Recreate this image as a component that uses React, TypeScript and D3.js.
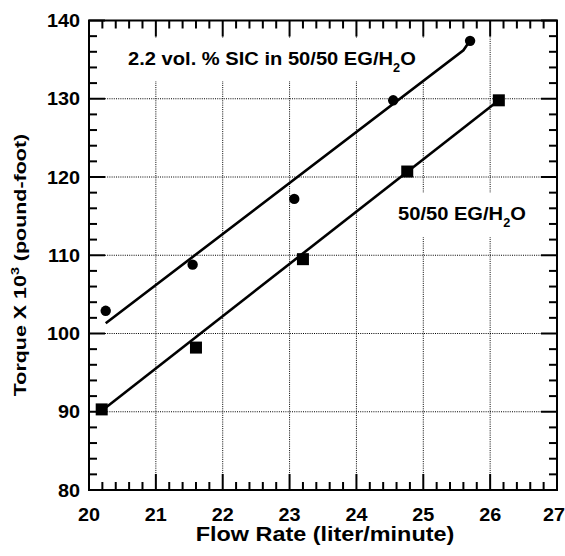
import * as d3 from "d3";

// data
const sicFlow = [20.25, 21.55, 23.07, 24.55, 25.7];
const sicTorque = [102.9, 108.8, 117.2, 129.8, 137.4];
const egFlow = [20.19, 21.6, 23.2, 24.76, 26.13];
const egTorque = [90.3, 98.2, 109.5, 120.7, 129.8];

// fitted lines
const sicFitFlow = [20.25, 25.6, 25.68];
const sicFitTorque = [101.3, 136.2, 137.2];
const egFitFlow = [20.2, 26.13];
const egFitTorque = [90.2, 129.8];

const xTicks = [20, 21, 22, 23, 24, 25, 26, 27];
const yTicks = [80, 90, 100, 110, 120, 130, 140];

const W = 565;
const H = 556;
const left = 89, right = 557, top = 20.5, bottom = 490;
const FONT = "'Liberation Sans', Arial, Helvetica, sans-serif";

const x = d3.scaleLinear().domain([20, 27]).range([left, right]);
const y = d3.scaleLinear().domain([80, 140]).range([bottom, top]);

const xMinor = d3.range(20, 27.001, 0.2).filter((v) => Math.abs(v - Math.round(v)) > 0.01);
const yMinor = d3.range(80, 140.001, 2).filter((v) => v % 10 !== 0);

const MAJ = 16;
const MIN = 8;

const line = d3.line<[number, number]>().x((d) => x(d[0])).y((d) => y(d[1]));
const zip = (a: number[], b: number[]) => a.map((v, i) => [v, b[i]] as [number, number]);

// text with horizontal stretch
const Txt = (p: { x: number; y: number; sx: number; size: number; anchor?: string; rot?: boolean; children: any }) => (
  <g transform={`translate(${p.x},${p.y})${p.rot ? " rotate(-90)" : ""} scale(${p.sx},1)`}>
    <text x={0} y={0} fontFamily={FONT} fontWeight="bold" fontSize={p.size} textAnchor={p.anchor || "start"} fill="#000">
      {p.children}
    </text>
  </g>
);

export default function App() {
  return (
    <svg width={W} height={H} style={{ position: "absolute", left: 0, top: 0, background: "#fff" }}>
      <rect x={0} y={0} width={W} height={H} fill="#fff" />

      {/* grid */}
      <g stroke="#000" strokeWidth={1} strokeDasharray="1,1.2">
        {xTicks.slice(1, -1).map((t) => (
          <line key={"gx" + t} x1={x(t)} x2={x(t)} y1={top + MAJ} y2={bottom - MAJ} />
        ))}
        {yTicks.slice(1, -1).map((t) => (
          <line key={"gy" + t} x1={left + MAJ} x2={right - MAJ} y1={y(t)} y2={y(t)} />
        ))}
      </g>

      {/* label backgrounds */}
      <rect x={120} y={38} width={310} height={43} fill="#fff" />
      <rect x={390} y={193} width={145} height={44} fill="#fff" />

      <Txt x={128} y={65} sx={1.06} size={19}>
        2.2 vol. % SIC in 50/50 EG/H
        <tspan fontSize={12} dy={7}>2</tspan>
        <tspan dy={-7}>O</tspan>
      </Txt>
      <Txt x={398} y={220} sx={1.06} size={19}>
        50/50 EG/H
        <tspan fontSize={12} dy={7}>2</tspan>
        <tspan dy={-7}>O</tspan>
      </Txt>

      {/* fits */}
      <path d={line(zip(sicFitFlow, sicFitTorque)) || ""} fill="none" stroke="#000" strokeWidth={2.6} />
      <path d={line(zip(egFitFlow, egFitTorque)) || ""} fill="none" stroke="#000" strokeWidth={2.6} />

      {/* markers */}
      {sicFlow.map((f, i) => (
        <circle key={"c" + i} cx={x(f)} cy={y(sicTorque[i])} r={5.2} fill="#000" />
      ))}
      {egFlow.map((f, i) => (
        <rect key={"s" + i} x={x(f) - 6} y={y(egTorque[i]) - 6} width={12} height={12} fill="#000" />
      ))}

      {/* frame and ticks */}
      <g stroke="#000" strokeWidth={2} fill="none">
        <rect x={left} y={top} width={right - left} height={bottom - top} />
        {xTicks.map((t) => (
          <g key={"xt" + t}>
            <line x1={x(t)} x2={x(t)} y1={bottom} y2={bottom - MAJ} />
            <line x1={x(t)} x2={x(t)} y1={top} y2={top + MAJ} />
          </g>
        ))}
        {xMinor.map((t) => (
          <g key={"xm" + t}>
            <line x1={x(t)} x2={x(t)} y1={bottom} y2={bottom - MIN} />
            <line x1={x(t)} x2={x(t)} y1={top} y2={top + MIN} />
          </g>
        ))}
        {yTicks.map((t) => (
          <g key={"yt" + t}>
            <line x1={left} x2={left + MAJ} y1={y(t)} y2={y(t)} />
            <line x1={right} x2={right - MAJ} y1={y(t)} y2={y(t)} />
          </g>
        ))}
        {yMinor.map((t) => (
          <g key={"ym" + t}>
            <line x1={left} x2={left + MIN} y1={y(t)} y2={y(t)} />
            <line x1={right} x2={right - MIN} y1={y(t)} y2={y(t)} />
          </g>
        ))}
      </g>

      {/* tick labels */}
      {xTicks.map((t) => (
        <Txt key={"xl" + t} x={x(t) - (t === 27 ? 3 : 0)} y={521} sx={1.1} size={18} anchor="middle">
          {t}
        </Txt>
      ))}
      {yTicks.map((t) => (
        <Txt key={"yl" + t} x={80} y={y(t) + 6.5} sx={1.1} size={18} anchor="end">
          {t}
        </Txt>
      ))}

      {/* axis titles */}
      <Txt x={(left + right) / 2 + 2} y={541} sx={1.2} size={19.5} anchor="middle">
        Flow Rate (liter/minute)
      </Txt>
      <Txt x={26} y={265} sx={1.3} size={16.5} anchor="middle" rot>
        Torque X 10
        <tspan fontSize={11} dy={-7}>3</tspan>
        <tspan dy={7}> (pound-foot)</tspan>
      </Txt>
    </svg>
  );
}
